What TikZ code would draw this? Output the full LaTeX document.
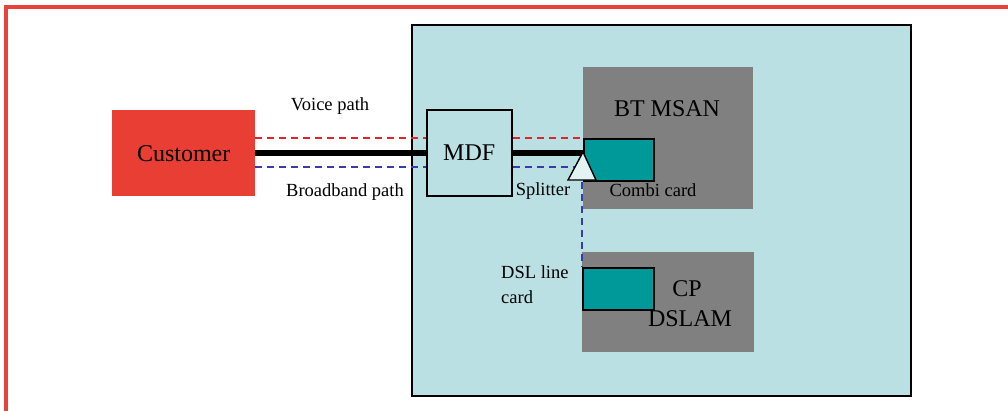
\documentclass[tikz,border=0pt]{standalone}
\usepackage{fontspec}
\setmainfont{Liberation Serif}
\definecolor{bordred}{HTML}{E8433A}
\definecolor{custred}{HTML}{E83E33}
\definecolor{lteal}{HTML}{BAE0E4}
\definecolor{cardteal}{HTML}{009999}
\definecolor{greybox}{HTML}{808080}
\definecolor{vred}{HTML}{E8202A}
\definecolor{bblue}{HTML}{3A3AAE}
\tikzset{
  big/.style={font=\fontsize{24}{28}\selectfont},
  small/.style={font=\fontsize{18.5}{25}\selectfont},
  voice/.style={vred, line width=1.6pt, dash pattern=on 7pt off 5pt},
  bband/.style={bblue, line width=1.6pt, dash pattern=on 7pt off 5pt},
  trunk/.style={black, line width=6pt},
  card/.style={draw=black, line width=1.6pt, fill=cardteal, inner sep=0pt, minimum width=70pt, minimum height=42pt, anchor=north west},
  gbox/.style={fill=greybox, inner sep=0pt, anchor=north west},
  lbl/.style={inner sep=0pt, text=black}
}
\begin{document}
\begin{tikzpicture}[x=1pt,y=-1pt]
\useasboundingbox (0,0) rectangle (1008,410);
\clip (0,0) rectangle (1008,410);
% outer red frame
\draw[bordred, line width=4pt] (6,7) rectangle (1030,430);
% exchange box
\node[draw=black, line width=1.8pt, fill=lteal, inner sep=0pt, minimum width=499pt, minimum height=371pt, anchor=north west] (exch) at (411,24) {};
% grey boxes
\node[gbox, minimum width=170pt, minimum height=142pt] (msan) at (583,67) {};
\node[gbox, minimum width=172pt, minimum height=100pt] (dslam) at (582,252) {};
% customer
\node[fill=custred, inner sep=0pt, minimum width=143pt, minimum height=86pt, anchor=north west, big] (cust) at (112,110) {Customer};
% MDF
\node[draw=black, line width=1.5pt, fill=lteal, inner sep=0pt, minimum width=85pt, minimum height=86pt, anchor=north west, big] (mdf) at (426,109) {MDF};
% cards
\node[card] (combi) at (583,138) {};
\node[card, minimum width=71pt] (dslcard) at (582,267) {};
% connector rows
\coordinate (vy) at (0,138);
\coordinate (ty) at (0,153);
\coordinate (by) at (0,167);
\coordinate (bend) at (582,167);
\draw[voice] (cust.east |- vy) -- (mdf.west |- vy);
\draw[voice] (mdf.east |- vy) -- (combi.north west);
\draw[bband] (cust.east |- by) -- (mdf.west |- by);
\draw[bband] (mdf.east |- by) -- (bend) -- (dslcard.north west);
\draw[trunk] (cust.east |- ty) -- (mdf.west |- ty);
\draw[trunk] (mdf.east |- ty) -- (combi.west |- ty);
% splitter
\coordinate (sp) at (583,152);
\draw[black, line width=1.4pt, fill=white!60!lteal, line join=miter] (sp) -- (596,180) -- (568,180) -- cycle;
% labels
\node[lbl, small] (voicelbl) at (330,106) {Voice path};
\node[lbl, small] (bblbl) at (345,192) {Broadband path};
\node[lbl, small] (splbl) at (543,191) {Splitter};
\node[lbl, small] (combilbl) at (653,190) {Combi card};
\node[lbl, big] (msanlbl) at (667,109) {BT MSAN};
\node[lbl, big] (cplbl) at (687,289) {CP};
\node[lbl, big] (dslamlbl) at (690,319) {DSLAM};
\node[lbl, small, align=left, anchor=north west] (dsllbl) at (501,265) {DSL line\\card};
\end{tikzpicture}
\end{document}
